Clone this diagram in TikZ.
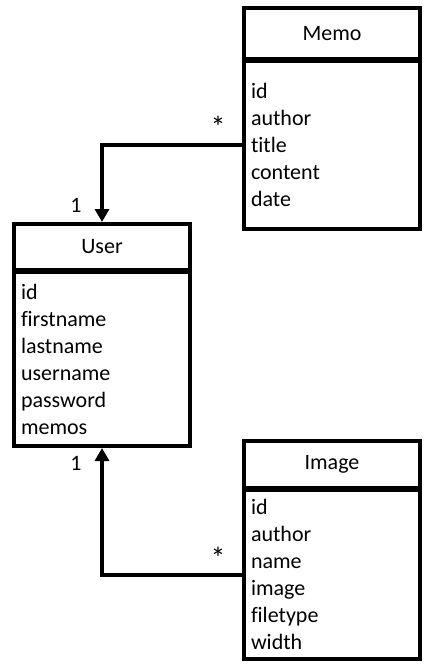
\documentclass[tikz,border=0pt]{standalone}
\usepackage{fontspec}
\setmainfont[Ligatures={NoCommon}]{Carlito}
\usetikzlibrary{arrows.meta,positioning}

\tikzset{
  every node/.style={font=\fontsize{22pt}{27pt}\selectfont},
  classtitle/.style={draw, line width=4pt, minimum width=176pt, inner sep=0pt},
  classbody/.style={draw, line width=4pt, minimum width=176pt, inner xsep=7pt, inner ysep=0pt,
    text width=162pt, align=left, anchor=north},
  rel/.style={line width=4pt, -{Triangle[width=14pt,length=13pt]}},
  mult/.style={anchor=base, inner sep=0pt},
  star/.style={mult, font=\fontsize{30pt}{30pt}\selectfont}
}

\begin{document}
\begin{tikzpicture}[x=1pt,y=-1pt]
\useasboundingbox (0,0) rectangle (436,670);

% Memo
\node[classtitle, minimum height=51pt] (memo) at (332,33.5) {Memo};
\node[classbody, minimum height=168pt] (memobody) at (memo.center |- 0,59) {id\\author\\title\\content\\date};

% User
\node[classtitle, minimum height=46pt] (user) at (102,247) {User};
\node[classbody, minimum height=174pt] (userbody) at (user.center |- 0,270) {id\\firstname\\lastname\\username\\password\\memos};

% Image
\node[classtitle, minimum height=47pt] (img) at (332,464.5) {Image};
\node[classbody, minimum height=169pt] (imgbody) at (img.center |- 0,488) {id\\author\\name\\image\\filetype\\width};

% relations
\draw[rel] (memobody.west) -| (user.north);
\draw[rel] (imgbody.west) -| (userbody.south);

% multiplicities
\node[star] (m1) at (218,137) {*};
\node[mult] (u1) at (76,212) {1};
\node[mult] (u2) at (76,470) {1};
\node[star] (i1) at (218,568) {*};
\end{tikzpicture}
\end{document}
